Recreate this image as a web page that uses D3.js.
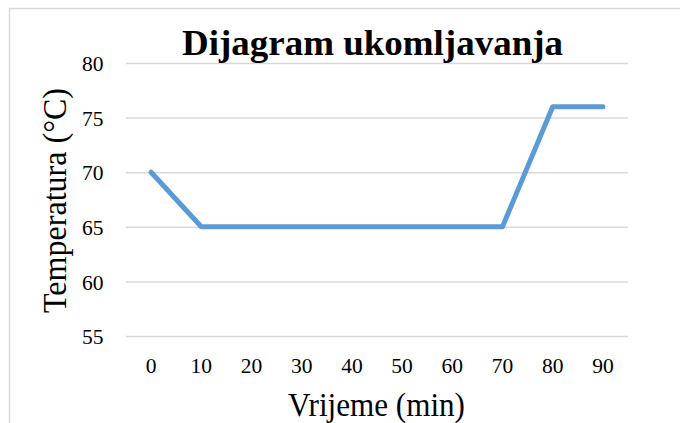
<!DOCTYPE html>
<html><head><meta charset="utf-8">
<script src="https://cdn.jsdelivr.net/npm/d3@7"></script>
<style>html,body{margin:0;padding:0;background:#fff;}svg{display:block;}</style>
</head><body>
<svg id="c" width="680" height="423"></svg>
<script>
const categories = ["0","10","20","30","40","50","60","70","80","90"];
const temperatures = [70,65,65,65,65,65,65,65,76,76];
const yTicks = [55,60,65,70,75,80];
const chartTitle = "Dijagram ukomljavanja";
const xTitle = "Vrijeme (min)";
const yTitle = "Temperatura (°C)";

(function(){
const svg = d3.select("#c");
const font = "'Liberation Serif','Times New Roman',serif";
svg.append("rect").attr("x",9.5).attr("y",8.5).attr("width",700).attr("height",500)
  .attr("fill","#fff").attr("stroke","#d9d9d9").attr("stroke-width",1.5);

const pL=126, pR=628, pT=63, pB=336;
const x = d3.scaleBand().domain(categories).range([pL,pR]);
const y = d3.scaleLinear().domain([55,80]).range([pB,pT]);

const yAxis = svg.append("g").attr("transform",`translate(${pL},0)`)
  .call(d3.axisLeft(y).tickValues(yTicks).tickSize(-(pR-pL)).tickPadding(22.5).tickFormat(d3.format("d")));
yAxis.select(".domain").remove();
yAxis.selectAll(".tick line").attr("stroke","#d9d9d9").attr("stroke-width",1.5);
yAxis.selectAll(".tick text").attr("font-family",font).attr("font-size",21.5).attr("fill","#000").attr("dy","0.36em");

const xAxis = svg.append("g").attr("transform",`translate(0,${pB})`)
  .call(d3.axisBottom(x).tickSize(0).tickPadding(22));
xAxis.select(".domain").remove();
xAxis.selectAll(".tick text").attr("font-family",font).attr("font-size",21.5).attr("fill","#000");

const line = d3.line().x((d,i)=>x(categories[i])+x.bandwidth()/2).y(d=>y(d));
svg.append("path").datum(temperatures).attr("d",line).attr("fill","none")
  .attr("stroke","#5b9bd5").attr("stroke-width",5).attr("stroke-linecap","round").attr("stroke-linejoin","round");

svg.append("text").attr("x",372.5).attr("y",55).attr("text-anchor","middle")
  .attr("font-family",font).attr("font-weight","bold").attr("font-size",35)
  .attr("textLength",381).attr("lengthAdjust","spacingAndGlyphs").text(chartTitle);
svg.append("text").attr("x",376.5).attr("y",416).attr("text-anchor","middle")
  .attr("font-family",font).attr("font-size",34)
  .attr("textLength",177).attr("lengthAdjust","spacingAndGlyphs").text(xTitle);
svg.append("text").attr("transform",`translate(66,200.5) rotate(-90)`).attr("text-anchor","middle")
  .attr("font-family",font).attr("font-size",33)
  .attr("textLength",225).attr("lengthAdjust","spacingAndGlyphs").text(yTitle);
})();
</script>
</body></html>
